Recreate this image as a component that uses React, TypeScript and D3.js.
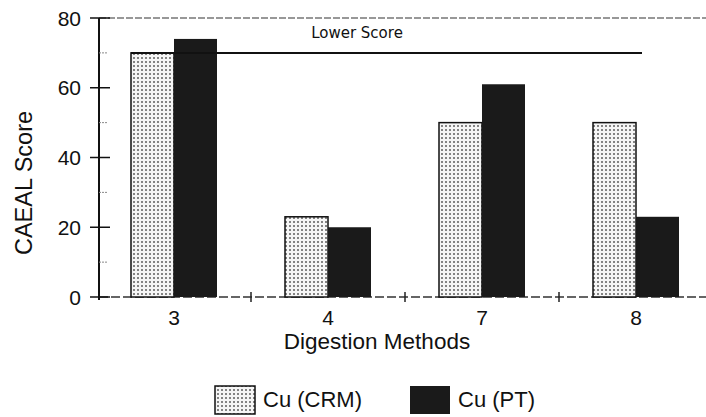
// Bar chart of CAEAL scores per digestion method, CRM vs PT

import React, { useEffect, useRef } from "react"
import * as d3 from "d3"

const methods = ["3", "4", "7", "8"]
const crmScores = [70, 23, 50, 50]
const ptScores = [74, 20, 61, 23]
const yTicks = [0, 20, 40, 60, 80]
const yMinorTicks = [10, 30, 50, 70]
const lowerScore = 70
const seriesNames = ["Cu (CRM)", "Cu (PT)"]

function App() {
  const ref = useRef<SVGSVGElement>(null)

  useEffect(() => {
    const svg = d3.select(ref.current)
    svg.selectAll("*").remove()

    const W = 706
    const font = "'Liberation Sans', Arial, sans-serif"

    const x = d3.scaleBand().domain(methods).range([97, 713]).padding(0)
    const y = d3.scaleLinear().domain([0, 80]).range([297, 18])
    const barW = 43
    const center = (m: string) => (x(m) as number) + x.bandwidth() / 2

    // dotted fill for the CRM bars
    const defs = svg.append("defs")
    const pat = defs.append("pattern")
      .attr("id", "dots")
      .attr("width", 4)
      .attr("height", 4)
      .attr("patternUnits", "userSpaceOnUse")
    pat.append("rect").attr("width", 4).attr("height", 4).attr("fill", "#f6f6f6")
    pat.append("circle").attr("cx", 2).attr("cy", 2).attr("r", 1).attr("fill", "#5e5e5e")

    const axisX0 = 99

    // top border at 80 (dashed, faint)
    svg.append("line")
      .attr("x1", axisX0).attr("x2", W)
      .attr("y1", y(80)).attr("y2", y(80))
      .attr("stroke", "#777")
      .attr("stroke-width", 1.5)
      .attr("stroke-dasharray", "7,2")

    // x axis baseline (dashed)
    svg.append("line")
      .attr("x1", axisX0).attr("x2", W)
      .attr("y1", y(0)).attr("y2", y(0))
      .attr("stroke", "#333")
      .attr("stroke-width", 1.5)
      .attr("stroke-dasharray", "9,3")

    // separators between categories
    svg.selectAll(".sep")
      .data(methods.slice(1))
      .enter()
      .append("line")
      .attr("x1", d => x(d) as number)
      .attr("x2", d => x(d) as number)
      .attr("y1", y(0) - 5)
      .attr("y2", y(0) + 5)
      .attr("stroke", "#222")
      .attr("stroke-width", 1.5)

    // CRM bars
    svg.selectAll(".bar-crm")
      .data(methods)
      .enter()
      .append("rect")
      .attr("x", d => center(d) - barW)
      .attr("y", (d, i) => y(crmScores[i]))
      .attr("width", barW)
      .attr("height", (d, i) => y(0) - y(crmScores[i]))
      .attr("fill", "url(#dots)")
      .attr("stroke", "#111")
      .attr("stroke-width", 1.5)

    // PT bars
    svg.selectAll(".bar-pt")
      .data(methods)
      .enter()
      .append("rect")
      .attr("x", d => center(d))
      .attr("y", (d, i) => y(ptScores[i]))
      .attr("width", barW)
      .attr("height", (d, i) => y(0) - y(ptScores[i]))
      .attr("fill", "#1a1a1a")

    // lower score reference line
    svg.append("line")
      .attr("x1", center(methods[0]) - barW)
      .attr("x2", center(methods[methods.length - 1]) + 6)
      .attr("y1", y(lowerScore))
      .attr("y2", y(lowerScore))
      .attr("stroke", "#111")
      .attr("stroke-width", 2)
    svg.append("text")
      .attr("x", 357)
      .attr("y", 38)
      .attr("text-anchor", "middle")
      .attr("font-family", "'DejaVu Sans', sans-serif")
      .attr("font-size", 15)
      .attr("fill", "#111")
      .text("Lower Score")

    // y axis
    svg.append("line")
      .attr("x1", axisX0).attr("x2", axisX0)
      .attr("y1", y(80)).attr("y2", y(0) + 3)
      .attr("stroke", "#111")
      .attr("stroke-width", 2)
    svg.selectAll(".ytick")
      .data(yTicks)
      .enter()
      .append("line")
      .attr("x1", 90).attr("x2", 110)
      .attr("y1", d => y(d)).attr("y2", d => y(d))
      .attr("stroke", "#111")
      .attr("stroke-width", 1.5)
    svg.selectAll(".yminor")
      .data(yMinorTicks)
      .enter()
      .append("line")
      .attr("x1", axisX0).attr("x2", 107)
      .attr("y1", d => y(d)).attr("y2", d => y(d))
      .attr("stroke", "#888")
      .attr("stroke-width", 1)
      .attr("stroke-dasharray", "2,1")
    svg.selectAll(".ylabel")
      .data(yTicks)
      .enter()
      .append("text")
      .attr("x", 81)
      .attr("y", d => y(d))
      .attr("dy", "0.36em")
      .attr("text-anchor", "end")
      .attr("font-family", font)
      .attr("font-size", 21)
      .attr("fill", "#111")
      .text(d => d)

    // x tick labels
    svg.selectAll(".xlabel")
      .data(methods)
      .enter()
      .append("text")
      .attr("x", d => center(d))
      .attr("y", 325)
      .attr("text-anchor", "middle")
      .attr("font-family", font)
      .attr("font-size", 21)
      .attr("fill", "#111")
      .text(d => d)

    // axis titles
    svg.append("text")
      .attr("x", 377)
      .attr("y", 349)
      .attr("text-anchor", "middle")
      .attr("font-family", font)
      .attr("font-size", 22.5)
      .attr("fill", "#111")
      .text("Digestion Methods")
    svg.append("text")
      .attr("transform", "translate(32,183) rotate(-90)")
      .attr("text-anchor", "middle")
      .attr("font-family", font)
      .attr("font-size", 23.5)
      .attr("fill", "#111")
      .text("CAEAL Score")

    // legend
    const legendX = [215, 410]
    const legendText = [263, 458]
    seriesNames.forEach((name, i) => {
      svg.append("rect")
        .attr("x", legendX[i])
        .attr("y", 386)
        .attr("width", 40)
        .attr("height", 28)
        .attr("fill", i === 0 ? "url(#dots)" : "#1a1a1a")
        .attr("stroke", "#111")
        .attr("stroke-width", i === 0 ? 1.5 : 0)
      svg.append("text")
        .attr("x", legendText[i])
        .attr("y", 407)
        .attr("font-family", font)
        .attr("font-size", 22)
        .attr("fill", "#111")
        .text(name)
    })
  }, [])

  return (
    <svg
      ref={ref}
      width={706}
      height={417}
      style={{ position: "absolute", left: 0, top: 0, background: "#fff" }}
    ></svg>
  )
}

export default App
